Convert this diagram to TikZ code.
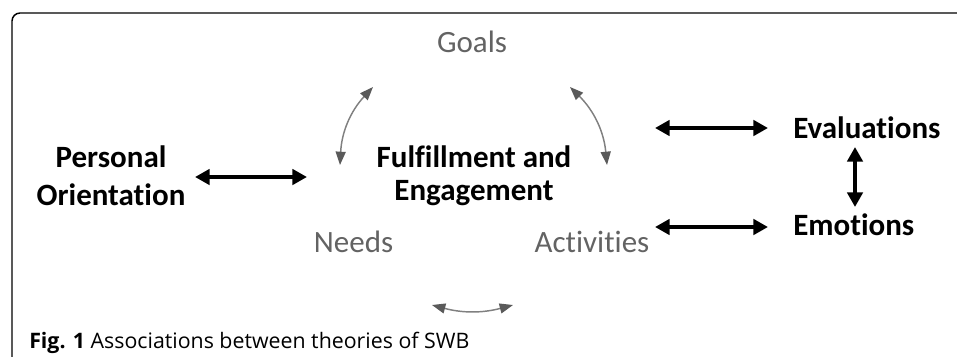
\documentclass[tikz,border=0pt]{standalone}
\usepackage{fontspec}
\setmainfont{Carlito}[Ligatures={NoCommon}]
\newfontfamily\capfont{Open Sans}
\usetikzlibrary{arrows.meta,calc}
\definecolor{gtext}{HTML}{636363}
\definecolor{gline}{HTML}{808080}
\definecolor{ghead}{HTML}{5A5A5A}
\begin{document}
\begin{tikzpicture}[x=0.75pt,y=-0.75pt,
  soft/.style={inner sep=0pt, text=gtext, font=\fontsize{23.25}{28}\selectfont},
  strong/.style={inner sep=0pt, text=black, align=center},
  big/.style={line width=3pt, {Triangle[length=11pt,width=11.5pt]}-{Triangle[length=11pt,width=11.5pt]}},
  thinarc/.style={line width=1.1pt, draw=gline, {Triangle[length=10pt,width=7.5pt,color=ghead]}-{Triangle[length=10pt,width=7.5pt,color=ghead]}}]
\useasboundingbox (0,0) rectangle (957,357);
% frame
\draw[line width=1.1pt, rounded corners=6pt] (12,357) -- (12,13) -- (957,13);
% labels
\node[soft, anchor=base] (goals) at (472,52) {Goals};
\node[soft, anchor=base] (needs) at (353.5,252) {Needs};
\node[soft, anchor=base] (acts) at (592,252) {Activities};
\node[strong, anchor=base, font=\fontsize{23.25}{28.5}\selectfont\bfseries] (po) at (111,205) {Personal\\Orientation};
\node[strong, anchor=base, font=\fontsize{23.25}{24.75}\selectfont\bfseries] (ff) at (474,200) {Fulfillment and\\Engagement};
\node[strong, anchor=base west, font=\fontsize{23.25}{28}\selectfont\bfseries] (evals) at (793,138) {Evaluations};
\node[strong, anchor=base west, font=\fontsize{23.25}{28}\selectfont\bfseries] (emot) at (793,235) {Emotions};
\node[anchor=base west, inner sep=0pt, font=\capfont\fontsize{16}{19}\selectfont] (cap) at (29,348) {\textbf{Fig. 1} Associations between theories of SWB};
% coordinates for free arrow ends
\coordinate (h1a) at (195,177);
\coordinate (h1b) at (307,177);
\coordinate (h2a) at (655,128);
\coordinate (h2b) at (768,128);
\coordinate (h3a) at (655,227);
\coordinate (h3b) at (768,227);
\coordinate (v1) at (855,147);
\coordinate (v2) at (855,207);
\coordinate (ga1) at (373,87);
\coordinate (ga2) at (340,165);
\coordinate (gb1) at (570,87);
\coordinate (gb2) at (607,165);
\coordinate (gc1) at (432,305);
\coordinate (gc2) at (513,305);
% black arrows
\draw[big] (h1a) -- (h1b);
\draw[big] (h2a) -- (h2b);
\draw[big] (h3a) -- (h3b);
\draw[big] (v1) -- (v2);
% gray arcs
\draw[thinarc] (ga1) to[bend right=20] (ga2);
\draw[thinarc] (gb1) to[bend left=20] (gb2);
\draw[thinarc] (gc1) to[bend right=15] (gc2);
\end{tikzpicture}
\end{document}
